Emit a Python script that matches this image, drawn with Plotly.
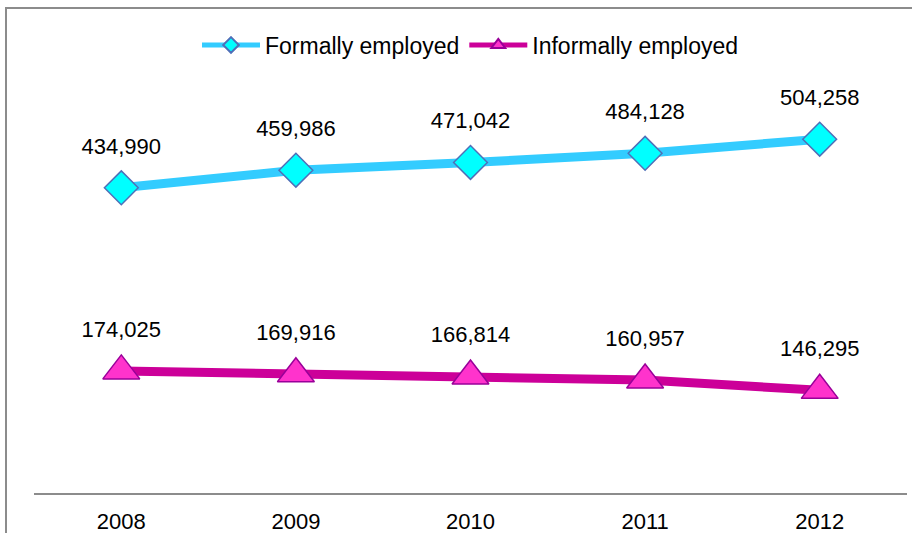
import plotly.graph_objects as go

# Employment by year
years = ["2008", "2009", "2010", "2011", "2012"]
formal = [434990, 459986, 471042, 484128, 504258]
informal = [174025, 169916, 166814, 160957, 146295]
series_names = ["Formally employed", "Informally employed"]

FONT = "Liberation Sans, Arial, Helvetica, sans-serif"
FS = 22

fig = go.Figure()

fig.add_trace(go.Scatter(
    x=years, y=formal, name=series_names[0], mode="lines+markers",
    line=dict(color="#33CCFF", width=9),
    marker=dict(symbol="diamond", size=26, color="#00FFFF",
                line=dict(color="#4F6FB8", width=1.5)),
))
fig.add_trace(go.Scatter(
    x=years, y=informal, name=series_names[1], mode="lines+markers",
    line=dict(color="#CC0099", width=9),
    marker=dict(symbol="triangle-up", size=32, color="#FF33CC",
                line=dict(color="#990099", width=1.5)),
))

# Value labels above each point (transparent spacer markers set the gap)
for series in (formal, informal):
    fig.add_trace(go.Scatter(
        x=years, y=series, mode="markers+text", showlegend=False,
        text=[f"{v:,}" for v in series], textposition="top center",
        textfont=dict(family=FONT, size=FS, color="#000000"),
        marker=dict(size=44, opacity=0), hoverinfo="skip",
    ))

# Outer chart frame (top and left edges visible)
fig.add_shape(type="rect", xref="paper", yref="paper",
              x0=-28 / 873, x1=1.2, y0=-0.3, y1=1 + 64 / 421,
              line=dict(color="#8C8C8C", width=2), layer="below")

fig.update_layout(
    width=912, height=533,
    margin=dict(l=34, r=5, t=72, b=40, autoexpand=False),
    paper_bgcolor="white", plot_bgcolor="white",
    font=dict(family=FONT, size=FS, color="#000000"),
    showlegend=True,
    legend=dict(orientation="h", x=0.5, xanchor="center",
                y=1 + 27 / 421, yanchor="middle",
                itemwidth=58, itemsizing="constant",
                font=dict(family=FONT, size=23, color="#000000")),
    xaxis=dict(type="category", range=[-0.5, 4.5], showgrid=False,
               showline=True, linecolor="#8C8C8C", linewidth=2,
               ticks="outside", ticklen=8, tickcolor="rgba(0,0,0,0)",
               tickfont=dict(family=FONT, size=FS, color="#000000"),
               zeroline=False),
    yaxis=dict(range=[0, 600000], showticklabels=False, showline=False,
               showgrid=False, zeroline=False, ticks=""),
)

fig.write_html("out.html")
